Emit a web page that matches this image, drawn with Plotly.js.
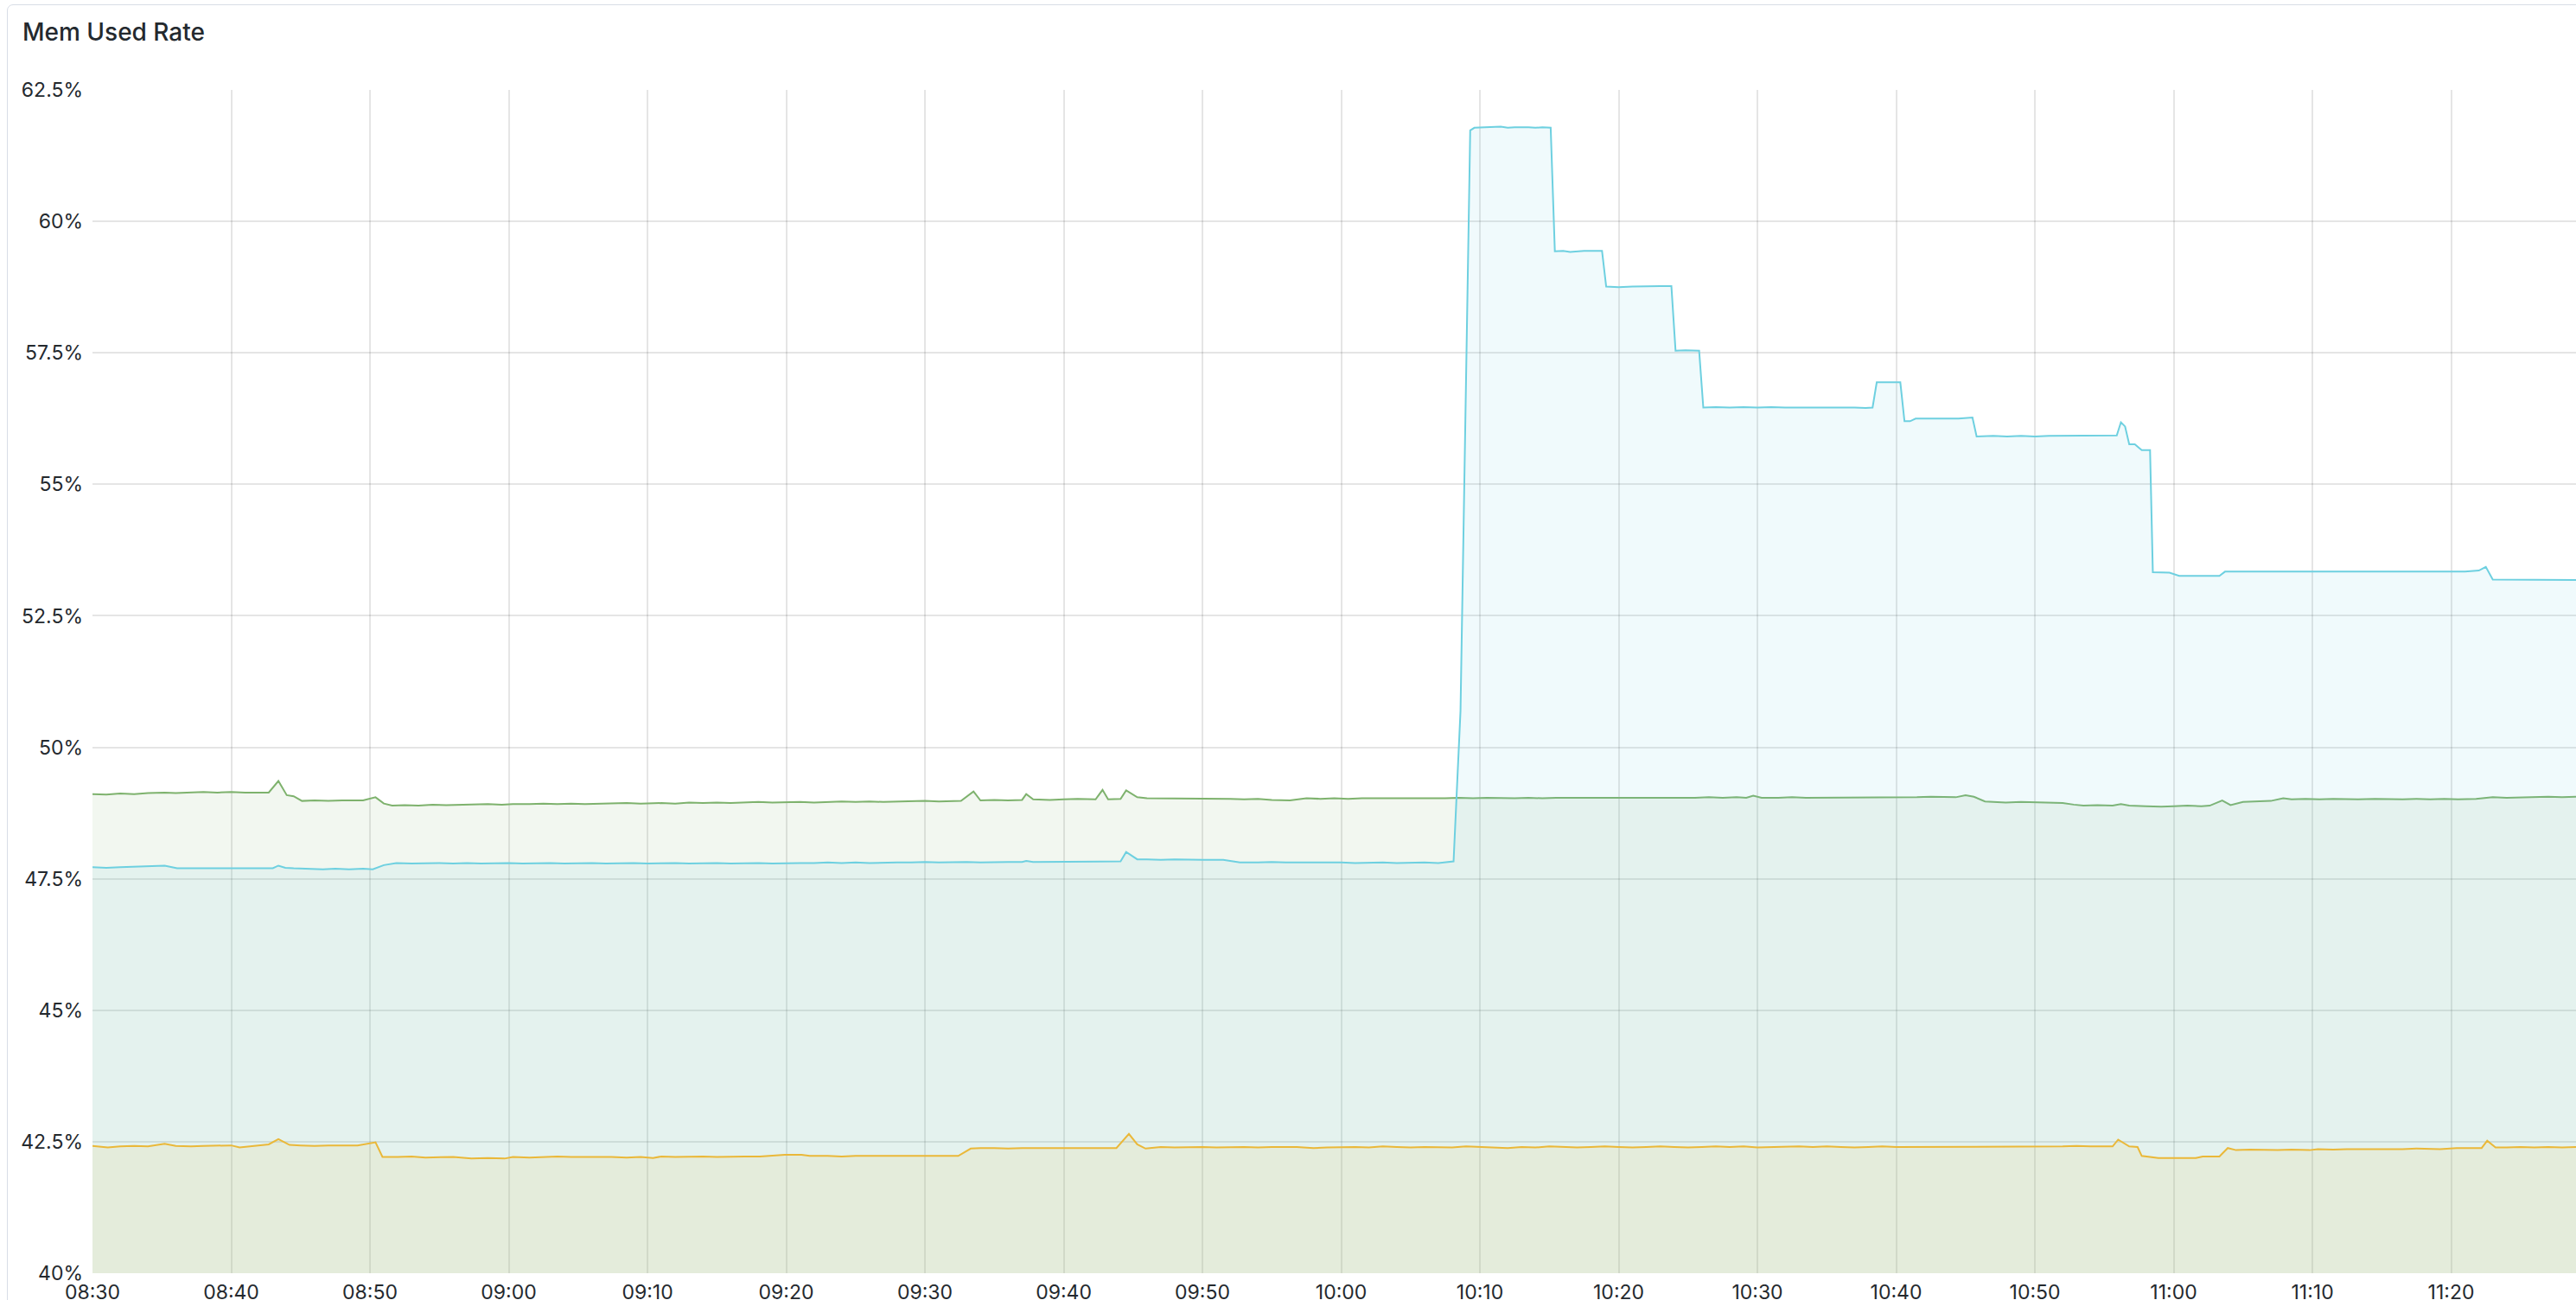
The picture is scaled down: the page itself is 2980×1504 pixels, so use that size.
<!DOCTYPE html>
<html>
<head>
<meta charset="utf-8">
<script src="https://cdn.plot.ly/plotly-3.0.1.min.js"></script>
<style>
  html, body { margin: 0; padding: 0; background: #ffffff; overflow: hidden; }
  #chart { position: absolute; left: 0; top: 0; width: 2980px; height: 1504px; }
  #panel { position: absolute; left: 8px; top: 5px; width: 3000px; height: 1600px;
           border: 1.5px solid #d8dde6; border-radius: 7px; box-sizing: border-box; pointer-events: none; }
</style>
</head>
<body>
<div id="chart"></div>
<div id="panel"></div>
<script>
// Minutes since 08:30 and Mem Used Rate (%) for each series
const greenT = [0,1,2,3,4,5.2,6,7,8,9,10,11,12.7,13.4,14.0,14.5,15.1,16,17,18,19.5,20.4,21.0,21.6,22.5,23.5,24.5,25.5,26.5,27.5,28.5,29.5,30.3,31.5,32.5,33.5,34.5,35.5,36.5,37.5,38.5,39.5,41.0,42,43,44,45,46,47,48,49,49.9,51,52,53,54,55,56,57,58,58.9,60,61,62.6,63.5,64.0,65,66,67.0,67.3,67.8,69,70,71,72.3,72.8,73.2,74.1,74.5,75.3,76,76.8,78,79,80,81,82,83,84,85,86.3,87.5,88.5,89.5,90.5,91.5,92.5,93.5,94.5,95.5,96.5,97.5,98.5,99.5,100.5,101.5,102.5,103.5,104.5,105.5,106.5,107.5,108.5,109.5,110.5,111.5,112.5,113.5,114.5,115.5,116.5,117.5,118.5,119.2,119.7,120.3,121.5,122.5,123.5,124.5,125.5,126.5,127.5,128.5,129.5,130.3,131.5,132.5,133.8,134.3,135.0,135.6,136.4,137.2,137.9,139,140.3,141.2,142,142.8,143.5,144.5,145.6,146.2,146.8,148,149.1,150,151,152,152.6,153.5,154.1,155.0,156,157,157.9,158.5,159.5,160.5,161.5,162.5,163.3,164.5,165.5,166.5,167.5,168.5,169.5,170.5,171.8,173,174,175,176,177,178,179];
const greenV = [49.11,49.10,49.12,49.11,49.13,49.14,49.13,49.14,49.15,49.14,49.15,49.14,49.14,49.36,49.09,49.07,48.98,48.99,48.98,48.99,48.99,49.05,48.93,48.89,48.90,48.89,48.91,48.90,48.91,48.91,48.92,48.91,48.92,48.92,48.93,48.92,48.93,48.92,48.93,48.93,48.94,48.93,48.94,48.93,48.95,48.94,48.95,48.94,48.95,48.96,48.95,48.96,48.96,48.95,48.96,48.97,48.96,48.97,48.96,48.97,48.97,48.98,48.97,48.98,49.16,48.99,49.00,48.99,49.00,49.11,49.01,49.00,49.01,49.02,49.01,49.19,49.01,49.02,49.18,49.05,49.03,49.03,49.02,49.03,49.02,49.03,49.02,49.01,49.02,49.00,48.99,49.03,49.02,49.03,49.02,49.03,49.03,49.02,49.03,49.03,49.02,49.03,49.04,49.03,49.04,49.03,49.03,49.04,49.03,49.04,49.04,49.03,49.04,49.04,49.03,49.04,49.04,49.03,49.04,49.04,49.05,49.04,49.05,49.04,49.08,49.04,49.04,49.05,49.04,49.04,49.05,49.04,49.05,49.04,49.05,49.04,49.05,49.06,49.06,49.05,49.09,49.06,48.97,48.96,48.95,48.96,48.95,48.95,48.94,48.91,48.89,48.90,48.89,48.92,48.89,48.88,48.87,48.88,48.89,48.88,48.89,48.99,48.90,48.96,48.97,48.98,49.03,49.01,49.02,49.01,49.02,49.01,49.01,49.02,49.01,49.01,49.02,49.01,49.02,49.01,49.02,49.05,49.04,49.05,49.05,49.06,49.05,49.06];

const blueT = [0,1,2,3,4,5.2,6.1,7,8,9,10,11,12,13.0,13.4,13.9,14.5,15.5,16.6,17.5,18.5,19.5,20.2,21.0,21.9,23,24,25,26,27,28,29,30,31,32,33,34,35,36,37,38,39,40,41,42,43,44,45,46,47,48,49,50,51,52,53,54,55,56,57,58,59,60,61,62,63,64,65,66,67.0,67.3,67.8,69,70,71,72,73,74.1,74.5,75.3,76,77,78,79,80,81.5,82.7,84,85,86,87,88,89,90,91,92,93,94,95,96,97,98.1,98.6,99.3,99.6,100.5,101.5,102,102.5,103.5,104,104.5,105.1,105.4,106,106.5,107,107.5,108.3,108.8,109.1,110,111,112,113,113.8,114.1,114.8,115.8,116.1,117,118,119,120,121,122,123,124,125,126,127,127.8,128.3,128.6,129.5,130.3,130.6,131.0,131.4,132.5,133.5,134.5,135.5,135.8,137,138,139,140,141,142,143,144,145,145.9,146.2,146.5,146.8,147.2,147.7,148.3,148.5,149.7,150.4,151.5,152.5,153.3,153.7,155,156,157,158,159,160,161,162,163,164,165,166,167,168,169,170,171,172,172.5,173.0,174,175,176,177,178,179];
const blueV = [47.72,47.71,47.72,47.73,47.74,47.75,47.70,47.70,47.71,47.70,47.70,47.71,47.70,47.70,47.75,47.71,47.70,47.69,47.68,47.69,47.68,47.69,47.68,47.76,47.80,47.79,47.80,47.80,47.79,47.80,47.79,47.80,47.80,47.79,47.80,47.80,47.79,47.80,47.80,47.79,47.80,47.80,47.79,47.80,47.80,47.79,47.80,47.80,47.79,47.80,47.80,47.79,47.80,47.80,47.80,47.81,47.80,47.81,47.80,47.81,47.81,47.81,47.82,47.81,47.82,47.82,47.81,47.82,47.82,47.82,47.84,47.82,47.82,47.83,47.83,47.82,47.83,47.83,48.01,47.87,47.87,47.86,47.87,47.86,47.86,47.86,47.81,47.81,47.82,47.81,47.81,47.81,47.82,47.81,47.80,47.81,47.81,47.80,47.81,47.81,47.80,47.83,50.69,61.73,61.78,61.79,61.80,61.78,61.79,61.79,61.78,61.79,61.78,59.43,59.44,59.42,59.43,59.44,59.44,59.44,58.76,58.75,58.76,58.77,58.77,58.77,57.54,57.55,57.54,56.46,56.47,56.46,56.47,56.46,56.47,56.46,56.46,56.47,56.46,56.46,56.46,56.45,56.46,56.94,56.94,56.94,56.20,56.20,56.25,56.25,56.26,56.25,56.27,55.91,55.92,55.91,55.92,55.91,55.92,55.92,55.92,55.92,55.92,55.93,56.18,56.10,55.76,55.76,55.65,55.65,53.33,53.32,53.26,53.26,53.27,53.26,53.34,53.34,53.35,53.34,53.35,53.35,53.34,53.35,53.35,53.35,53.34,53.35,53.35,53.35,53.34,53.35,53.35,53.34,53.36,53.43,53.19,53.19,53.19,53.18,53.19,53.19,53.18];

const yellowT = [0,1.1,2,3,4,5.2,6,7.1,8,9,10.0,10.6,11.5,12.7,13.4,14.2,15,16,17,18,19.1,20.4,20.9,22,23,24,25,26,27.3,28.5,29.7,30.3,31.5,32.5,33.5,34.5,35.5,36.5,37.4,38.5,39.5,40.4,41,42,43,44,45,46,47,48.1,49.9,51.1,51.7,53,54,55,56,57,58,59,60,61,62.4,63.3,64,65,66,67,68,69,70,71,72,73,73.8,74.7,75.3,75.9,77,78,79,80,81,82,83,84,85,86.8,88,89,90,91,92,93,94,95,96,97,98,99,100,101,102,103,104,105,106,107,108,109,110,111,112,113,114,115,116,117,118,119,120,121,122,123,124,125,126,127,128,129,130,131,132,133,134,135,136,137,138,139.7,141,142,143,144,145.6,146.0,146.8,147.4,147.7,148.9,150,151.6,152.1,153.3,153.9,154.5,155.5,156.5,157.5,158.5,159.8,160.4,161.5,162.5,163.5,164.5,165.5,166.5,167.5,168.5,169.2,170.4,171.5,172.2,172.6,173.2,174,175,176,177,178,179];
const yellowV = [42.42,42.39,42.41,42.42,42.41,42.46,42.42,42.41,42.42,42.42,42.43,42.39,42.42,42.45,42.55,42.44,42.43,42.42,42.43,42.43,42.43,42.49,42.21,42.21,42.22,42.20,42.21,42.21,42.18,42.19,42.18,42.21,42.20,42.21,42.22,42.21,42.21,42.22,42.21,42.20,42.21,42.19,42.22,42.21,42.22,42.22,42.21,42.22,42.22,42.22,42.25,42.25,42.23,42.23,42.22,42.23,42.23,42.24,42.23,42.23,42.24,42.23,42.23,42.37,42.38,42.38,42.37,42.38,42.38,42.37,42.38,42.38,42.38,42.38,42.38,42.65,42.45,42.37,42.40,42.39,42.40,42.40,42.39,42.40,42.40,42.39,42.40,42.40,42.38,42.39,42.40,42.40,42.39,42.41,42.40,42.39,42.40,42.40,42.39,42.41,42.40,42.39,42.38,42.40,42.39,42.41,42.40,42.39,42.40,42.41,42.40,42.39,42.40,42.41,42.40,42.39,42.40,42.41,42.40,42.41,42.39,42.40,42.40,42.41,42.40,42.41,42.40,42.39,42.40,42.41,42.40,42.40,42.41,42.40,42.41,42.40,42.41,42.40,42.41,42.40,42.41,42.41,42.42,42.41,42.41,42.54,42.41,42.40,42.23,42.19,42.19,42.19,42.22,42.22,42.38,42.34,42.35,42.34,42.34,42.35,42.34,42.36,42.35,42.36,42.36,42.35,42.36,42.36,42.37,42.36,42.36,42.38,42.38,42.38,42.52,42.39,42.39,42.40,42.39,42.40,42.39,42.40];

const yTickVals = [40, 42.5, 45, 47.5, 50, 52.5, 55, 57.5, 60, 62.5];
const yTickText = ['40%', '42.5%', '45%', '47.5%', '50%', '52.5%', '55%', '57.5%', '60%', '62.5%'];

const day = '2024-01-01';
function pad(n) { return (n < 10 ? '0' : '') + n; }
function ts(m) {
  const s = Math.round((8 * 60 + 30 + m) * 60);
  return day + ' ' + pad(Math.floor(s / 3600)) + ':' + pad(Math.floor((s % 3600) / 60)) + ':' + pad(s % 60);
}

function series(T, V, color, fill) {
  return {
    x: T.map(ts), y: V, type: 'scatter', mode: 'lines',
    line: { color: color, width: 2 },
    fill: 'tozeroy', fillcolor: fill,
    hoverinfo: 'skip', showlegend: false
  };
}

const data = [
  series(greenT, greenV, '#7EB26D', 'rgba(126,178,109,0.1)'),
  series(blueT, blueV, '#6ED0E0', 'rgba(110,208,224,0.1)'),
  series(yellowT, yellowV, '#EAB839', 'rgba(234,184,57,0.1)')
];

const textColor = '#24292e';
const layout = {
  width: 2980, height: 1504,
  margin: { l: 107, r: 0, t: 104, b: 31, pad: 0 },
  paper_bgcolor: 'rgba(0,0,0,0)', plot_bgcolor: 'rgba(0,0,0,0)',
  font: { family: 'Inter, "Open Sans", sans-serif', size: 23, color: textColor },
  title: {
    text: 'Mem Used Rate',
    font: { family: 'Inter, sans-serif', size: 28, weight: 500, color: textColor },
    xref: 'container', yref: 'container',
    x: 26 / 2980, xanchor: 'left',
    y: 1 - 37 / 1504, yanchor: 'middle'
  },
  xaxis: {
    type: 'date',
    range: [ts(0), ts(179)],
    tickformat: '%H:%M',
    tick0: ts(0), dtick: 600000,
    showgrid: true, gridcolor: 'rgba(0,0,0,0.1)', gridwidth: 2,
    zeroline: false, showline: false, ticks: '',
    ticklabelstandoff: 6,
    tickfont: { size: 23, color: textColor }
  },
  yaxis: {
    range: [40, 62.5],
    tickmode: 'array', tickvals: yTickVals, ticktext: yTickText,
    showgrid: true, gridcolor: 'rgba(0,0,0,0.1)', gridwidth: 2,
    zeroline: false, showline: false, ticks: '',
    ticklabelstandoff: 10,
    tickfont: { size: 23, color: textColor }
  }
};

Plotly.newPlot('chart', data, layout, { displayModeBar: false, staticPlot: true });
</script>
</body>
</html>
